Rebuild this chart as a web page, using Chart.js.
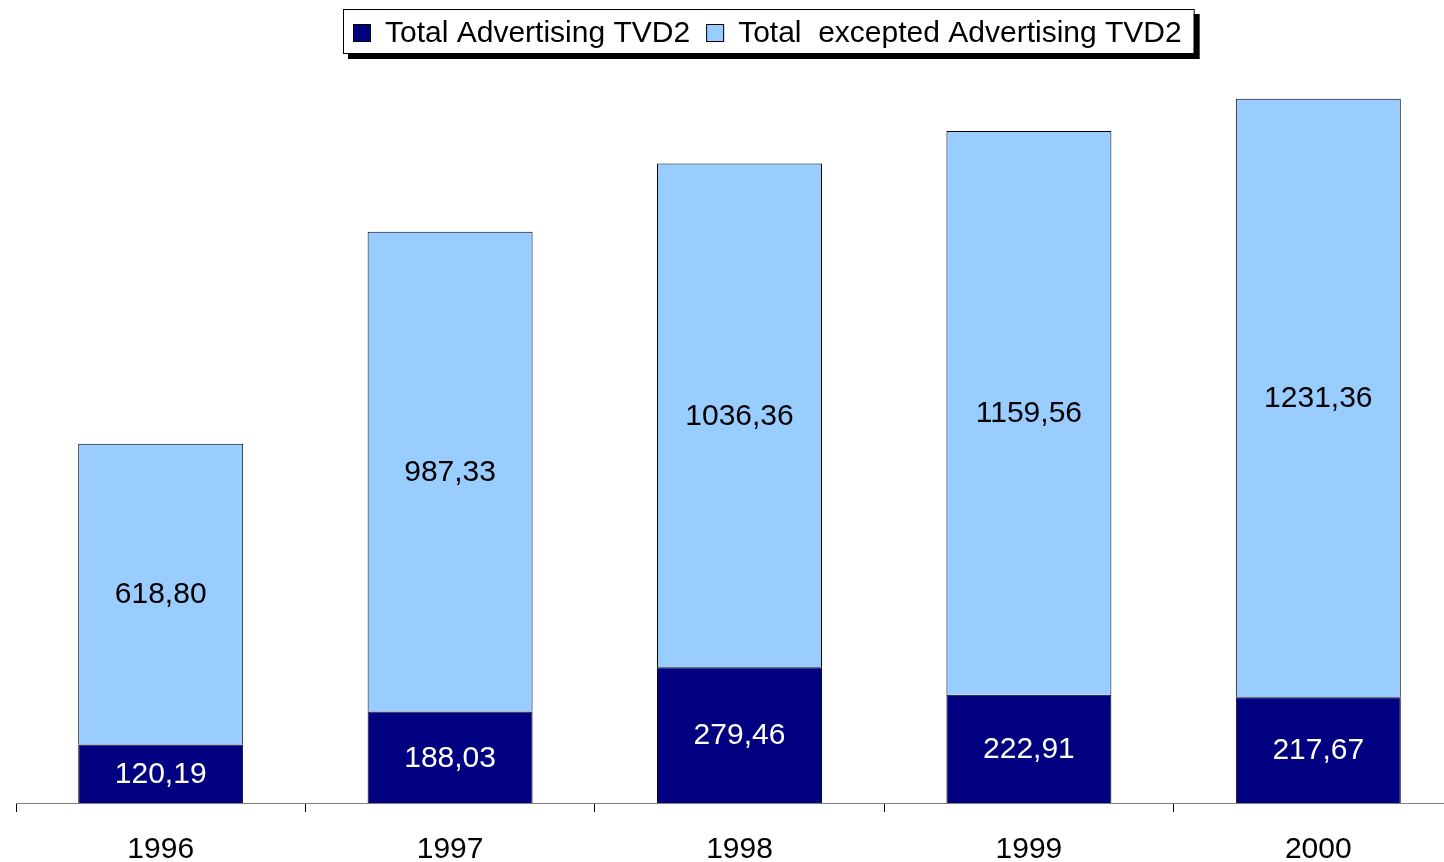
<!DOCTYPE html>
<html>
<head>
<meta charset="utf-8">
<script src="https://cdn.jsdelivr.net/npm/chart.js@4/dist/chart.umd.min.js"></script>
<style>
  html, body { margin: 0; padding: 0; background: #fff; overflow: hidden; }
  #wrap { width: 1444px; height: 862px; overflow: hidden; }
  canvas { display: block; }
</style>
</head>
<body>
<div id="wrap"><canvas id="c" width="1463" height="862"></canvas></div>
<script>
// Years on the category axis
const years = ['1996', '1997', '1998', '1999', '2000'];
// Advertising revenue (lower segment of each stack)
const advertising = [120.19, 188.03, 279.46, 222.91, 217.67];
// Revenue excluding advertising (upper segment of each stack)
const exceptAdvertising = [618.80, 987.33, 1036.36, 1159.56, 1231.36];
// Series names shown in the legend
const seriesNames = ['Total Advertising TVD2', 'Total  excepted Advertising TVD2'];

const seriesColors = ['#000080', '#99CCFF'];
const valueTextColors = ['#FFFFFF', '#000000'];
const FONT = "'Liberation Sans', Arial, Helvetica, sans-serif";
const TEXT_SIZE = 30;

function formatValue(v) {
  return v.toFixed(2).replace('.', ',');
}

// Writes each segment's value in the middle of its bar segment
const valueLabels = {
  id: 'valueLabels',
  afterDatasetsDraw(chart) {
    const ctx = chart.ctx;
    ctx.save();
    ctx.font = TEXT_SIZE + 'px ' + FONT;
    ctx.textAlign = 'center';
    ctx.textBaseline = 'middle';
    chart.data.datasets.forEach((ds, i) => {
      const meta = chart.getDatasetMeta(i);
      meta.data.forEach((bar, j) => {
        const p = bar.getProps(['x', 'y', 'base'], true);
        ctx.fillStyle = valueTextColors[i];
        ctx.fillText(formatValue(ds.data[j]), p.x, (p.y + p.base) / 2 + 1);
      });
    });
    ctx.restore();
  }
};

// Framed legend with a drop shadow, laid out in one row
const boxLegend = {
  id: 'boxLegend',
  afterDraw(chart) {
    const ctx = chart.ctx;
    const left = 343, top = 9, h = 44;
    const padL = 10, padR = 12, sw = 18, gapText = 14, gapItem = 16;
    ctx.save();
    ctx.font = TEXT_SIZE + 'px ' + FONT;
    const items = chart.data.datasets.map(d => ({
      label: d.label, color: d.backgroundColor, w: ctx.measureText(d.label).width
    }));
    let w = padL + padR;
    items.forEach((it, i) => { w += sw + gapText + it.w + (i < items.length - 1 ? gapItem : 0); });

    ctx.fillStyle = '#000';
    ctx.fillRect(left + 5, top + 5, w + 1, h + 1);
    ctx.fillStyle = '#fff';
    ctx.fillRect(left, top, w, h);
    ctx.strokeStyle = '#000';
    ctx.lineWidth = 1;
    ctx.strokeRect(left + 0.5, top + 0.5, w, h);

    let x = left + padL;
    const cy = 33;
    items.forEach(it => {
      ctx.fillStyle = it.color;
      ctx.fillRect(x, cy - 9, sw, sw);
      ctx.strokeStyle = '#000';
      ctx.strokeRect(x + 0.5, cy - 9 + 0.5, sw - 1, sw - 1);
      x += sw + gapText;
      ctx.fillStyle = '#000';
      ctx.textAlign = 'left';
      ctx.textBaseline = 'middle';
      ctx.fillText(it.label, x, cy + 1);
      x += it.w + gapItem;
    });
    ctx.restore();
  }
};

new Chart(document.getElementById('c'), {
  type: 'bar',
  data: {
    labels: years,
    datasets: [
      {
        label: seriesNames[0],
        data: advertising,
        backgroundColor: seriesColors[0],
        borderColor: '#000',
        borderWidth: 1
      },
      {
        label: seriesNames[1],
        data: exceptAdvertising,
        backgroundColor: seriesColors[1],
        borderColor: '#000',
        borderWidth: 1
      }
    ]
  },
  options: {
    responsive: false,
    animation: false,
    devicePixelRatio: 1,
    layout: { padding: { top: 74, left: 16, right: 0, bottom: 0 } },
    datasets: { bar: { barPercentage: 0.57, categoryPercentage: 1.0 } },
    plugins: {
      legend: { display: false },
      title: { display: false },
      tooltip: { enabled: false }
    },
    scales: {
      x: {
        stacked: true,
        offset: true,
        afterFit(scale) { scale.height = 59; },
        grid: {
          offset: true,
          drawOnChartArea: false,
          drawTicks: true,
          tickLength: 9,
          color: '#000',
          lineWidth: 1
        },
        border: { display: true, color: '#808080', width: 1 },
        ticks: {
          color: '#000',
          font: { family: FONT, size: TEXT_SIZE, lineHeight: 1 },
          padding: 23,
          maxRotation: 0,
          autoSkip: false
        }
      },
      y: {
        stacked: true,
        display: false,
        min: 0,
        max: 1500
      }
    }
  },
  plugins: [valueLabels, boxLegend]
});
</script>
</body>
</html>
